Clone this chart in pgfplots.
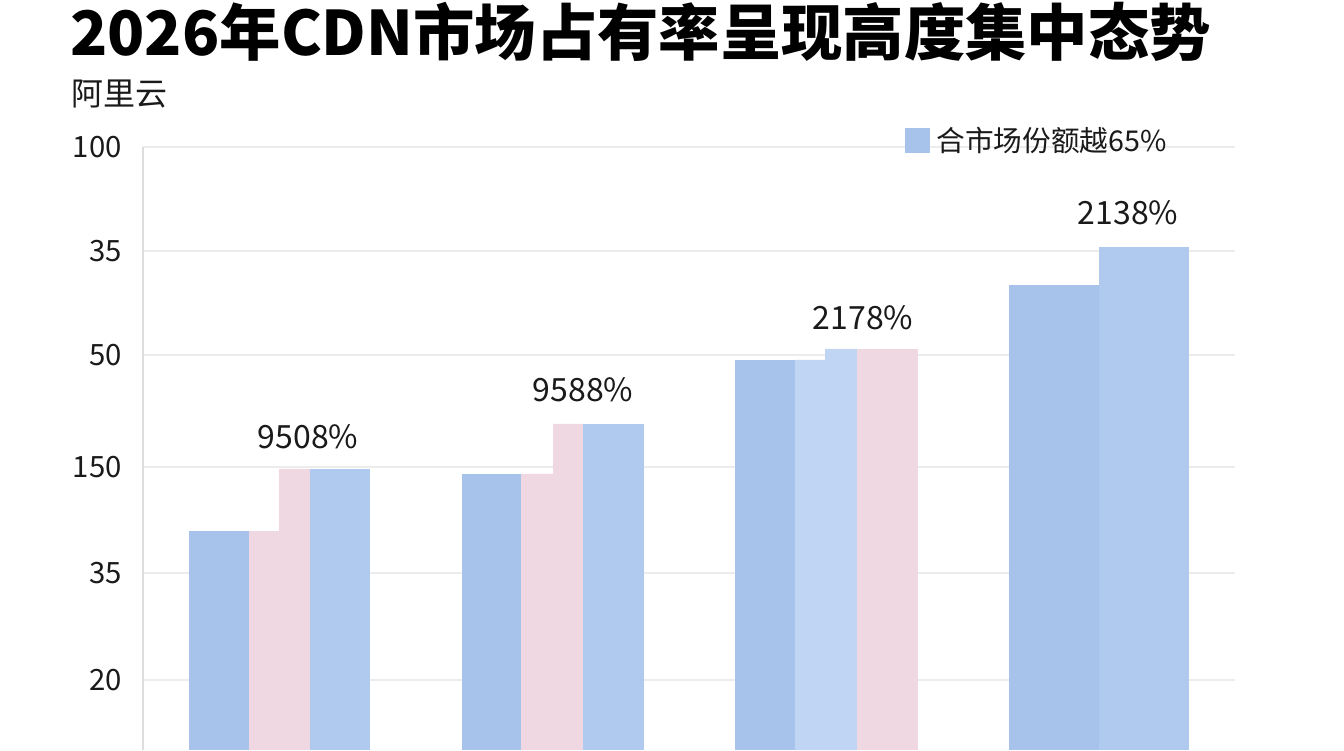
\documentclass[border=0pt]{standalone}
\usepackage{fontspec}
\setmainfont{Noto Sans CJK SC}
\usepackage{pgfplots}
\pgfplotsset{compat=1.18}

\definecolor{barblue}{HTML}{A8C3EB}
\definecolor{barblueb}{HTML}{B0C9EE}
\definecolor{barlight}{HTML}{C0D5F3}
\definecolor{barpink}{HTML}{F0D8E3}
\definecolor{gridgray}{HTML}{ECECEC}
\definecolor{axisgray}{HTML}{DDDDDD}
\definecolor{textcol}{HTML}{1A1A1A}

\begin{document}
% 1 unit = 1 pixel of the 1344x750 reference
\begin{tikzpicture}[x=0.75pt,y=0.75pt]
\useasboundingbox (0,0) rectangle (1344,750);
\fill[white] (0,0) rectangle (1344,750);

\begin{axis}[
    at={(107.25pt,0pt)}, anchor=south west,
    scale only axis, width=819pt, height=452.25pt,
    xmin=143, xmax=1235, ymin=0, ymax=603,
    clip=false,
    axis x line=none,
    axis y line*=left,
    y axis line style={draw=axisgray, line width=1pt},
    ytick={70,177,283,395,499,603},
    yticklabels={20,35,150,50,35,100},
    major tick length=0pt,
    ymajorgrids=true,
    grid style={draw=gridgray, line width=1pt},
    /pgf/number format/assume math mode=true,
    yticklabel style={font=\fontsize{22}{22}\selectfont, text=textcol,
        inner sep=0pt, xshift=-15.75pt},
    legend style={at={(axis cs:905,610)}, anchor=west, draw=none, fill=none,
        inner sep=0pt, font=\fontsize{21.5}{21.5}\selectfont, text=textcol,
        nodes={inner sep=0pt},
        /tikz/every odd column/.style={column sep=5pt}},
]
% group 1
\addplot[ybar interval, fill=barblue, draw=none, forget plot] coordinates {(189,219) (249,219)};
\addplot[ybar interval, fill=barpink, draw=none, forget plot] coordinates {(249,219) (279,281) (310,0)};
\addplot[ybar interval, fill=barblueb, draw=none, forget plot] coordinates {(310,281) (370,281)};
% group 2
\addplot[ybar interval, fill=barblue, draw=none, forget plot] coordinates {(462,276) (521,276)};
\addplot[ybar interval, fill=barpink, draw=none, forget plot] coordinates {(521,276) (553,326) (583,0)};
\addplot[ybar interval, fill=barblueb, draw=none, forget plot] coordinates {(583,326) (644,326)};
% group 3
\addplot[ybar interval, fill=barblue, draw=none, forget plot] coordinates {(735,390) (795,390)};
\addplot[ybar interval, fill=barlight, draw=none, forget plot] coordinates {(795,390) (825,401) (857,0)};
\addplot[ybar interval, fill=barpink, draw=none, forget plot] coordinates {(857,401) (918,401)};
% group 4
\addplot[ybar interval, fill=barblue, draw=none, forget plot] coordinates {(1009,465) (1099,465)};
\addplot[ybar interval, fill=barblueb, draw=none, forget plot] coordinates {(1099,503) (1189,503)};

\addlegendimage{legend image code/.code={\fill[barblue] (0pt,-9pt) rectangle (18pt,9pt);}}
\addlegendentry{合市场份额越65\%}

\begin{scope}[every node/.style={font=\fontsize{24}{24}\selectfont, text=textcol}]
\node at (axis cs:308,313) {9508\%};
\node at (axis cs:583,360) {9588\%};
\node at (axis cs:863,432) {2178\%};
\node at (axis cs:1128,537) {2138\%};
\end{scope}
\end{axis}

\node[anchor=base west, inner sep=0pt, text=black,
      font=\fontsize{46}{46}\selectfont\bfseries] at (70,694)
      {2026年CDN市场占有率呈现高度集中态势};
\node[anchor=base west, inner sep=0pt, text=textcol,
      font=\fontsize{24}{24}\selectfont] at (71,644) {阿里云};
\end{tikzpicture}
\end{document}
